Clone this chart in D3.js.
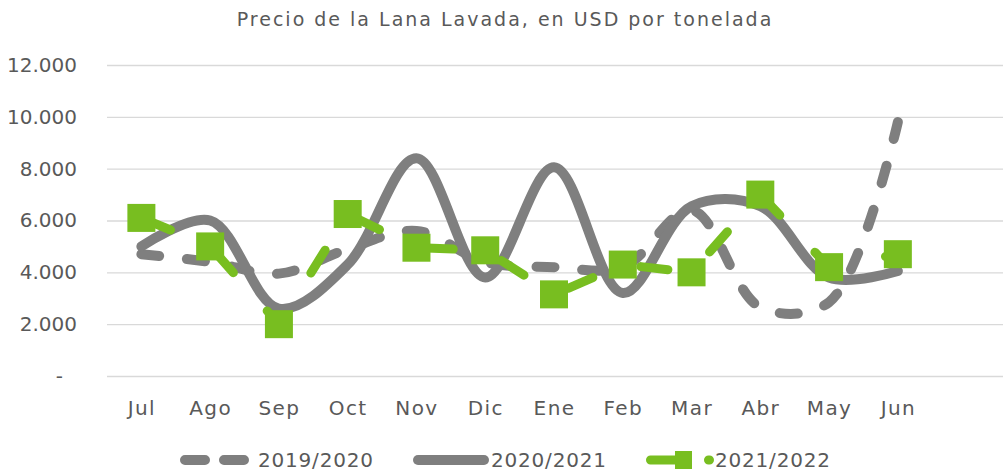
<!DOCTYPE html>
<html>
<head>
<meta charset="utf-8">
<script src="https://cdn.jsdelivr.net/npm/d3@7"></script>
<style>
  body { margin: 0; background: #fff; }
  text { font-family: "DejaVu Sans", sans-serif; fill: #595959; }
</style>
</head>
<body>
<div id="chart"></div>
<script>
// data
var months = ["Jul", "Ago", "Sep", "Oct", "Nov", "Dic", "Ene", "Feb", "Mar", "Abr", "May", "Jun"];
var yTicks = [0, 2000, 4000, 6000, 8000, 10000, 12000];
var season1920 = [4700, 4400, 3950, 4900, 5600, 4400, 4200, 4200, 6400, 2650, 2850, 9800];
var season2021 = [5000, 6000, 2600, 4300, 8400, 3800, 8050, 3200, 6550, 6550, 3800, 4050];
var season2122 = [6100, 5000, 2000, 6250, 4950, 4850, 3150, 4300, 4000, 7000, 4200, 4700];
var seasonNames = ["2019/2020", "2020/2021", "2021/2022"];

var width = 1005,
    height = 476,
    plotLeft = 107,
    plotRight = 1001,
    plotTop = 65,
    plotBottom = 376;

var gray = "#7f7f7f",
    green = "#78be20";

var svg = d3.select("#chart")
      .append("svg")
      .attr("width", width)
      .attr("height", height);

// 13 slots, the last one stays empty like in the original
var x = d3.scaleLinear()
      .domain([-0.5, 12.5])
      .range([plotLeft, plotRight]);
var y = d3.scaleLinear()
      .domain([0, 12000])
      .range([plotBottom, plotTop]);

// title
svg.append("text")
      .attr("x", 505)
      .attr("y", 26)
      .attr("text-anchor", "middle")
      .style("font-size", "19px")
      .style("letter-spacing", "2px")
      .text("Precio de la Lana Lavada, en USD por tonelada");

// y axis + gridlines
var yAxis = d3.axisLeft(y)
      .tickValues(yTicks)
      .tickSize(-(plotRight + 2 - plotLeft))
      .tickPadding(30)
      .tickFormat(function (d) {
            return d === 0 ? "-" : d3.format(",")(d).replace(/,/g, ".");
      });

var gy = svg.append("g")
      .attr("transform", "translate(" + plotLeft + ",0)")
      .call(yAxis);
gy.select(".domain").remove();
gy.selectAll(".tick line")
      .attr("stroke", "#d9d9d9")
      .attr("stroke-width", 1.4);
gy.selectAll(".tick text")
      .style("font-size", "20px")
      .style("font-family", "'DejaVu Sans', sans-serif")
      .attr("fill", "#595959")
      .attr("dx", function (d) { return d === 0 ? -14 : 0; });

// x axis (labels only)
var xAxis = d3.axisBottom(x)
      .tickValues(d3.range(months.length))
      .tickSize(0)
      .tickPadding(25)
      .tickFormat(function (i) { return months[i]; });

var gx = svg.append("g")
      .attr("transform", "translate(0," + plotBottom + ")")
      .call(xAxis);
gx.select(".domain").remove();
gx.selectAll(".tick text")
      .style("font-size", "20px")
      .style("letter-spacing", "1.4px")
      .style("font-family", "'DejaVu Sans', sans-serif")
      .attr("fill", "#595959");

var smoothLine = d3.line()
      .x(function (d, i) { return x(i); })
      .y(function (d) { return y(d); })
      .curve(d3.curveCatmullRom.alpha(0.5));

var straightLine = d3.line()
      .x(function (d, i) { return x(i); })
      .y(function (d) { return y(d); });

// 2019/2020 dashed gray
var dashed = svg.append("path")
      .attr("d", smoothLine(season1920))
      .attr("fill", "none")
      .attr("stroke", gray)
      .attr("stroke-width", 10)
      .attr("stroke-linecap", "round");

// stretch the dash period a bit so the line ends inside a dash
var dashLen = 18;
var totalLen = dashed.node().getTotalLength();
var nDash = Math.round((totalLen - dashLen) / 45);
var period = (totalLen - dashLen) / nDash;
dashed.attr("stroke-dasharray", dashLen + " " + (period - dashLen));

// 2020/2021 solid gray
svg.append("path")
      .attr("d", smoothLine(season2021))
      .attr("fill", "none")
      .attr("stroke", gray)
      .attr("stroke-width", 10)
      .attr("stroke-linecap", "round")
      .attr("stroke-linejoin", "round");

// 2021/2022 green dashed with squares
svg.append("path")
      .attr("d", straightLine(season2122))
      .attr("fill", "none")
      .attr("stroke", green)
      .attr("stroke-width", 9)
      .attr("stroke-linecap", "round")
      .attr("stroke-dasharray", "27 51")
      .attr("stroke-dashoffset", -4.5);

var markerSize = 28;
svg.selectAll(".square")
      .data(season2122)
      .enter().append("rect")
      .attr("class", "square")
      .attr("x", function (d, i) { return x(i) - markerSize / 2; })
      .attr("y", function (d) { return y(d) - markerSize / 2; })
      .attr("width", markerSize)
      .attr("height", markerSize)
      .attr("fill", green);

// legend
var legendY = 460;
var lg = svg.append("g");

lg.append("line")
      .attr("x1", 185).attr("x2", 245)
      .attr("y1", legendY).attr("y2", legendY)
      .attr("stroke", gray)
      .attr("stroke-width", 10)
      .attr("stroke-linecap", "round")
      .attr("stroke-dasharray", "20 19");

lg.append("line")
      .attr("x1", 418).attr("x2", 484)
      .attr("y1", legendY).attr("y2", legendY)
      .attr("stroke", gray)
      .attr("stroke-width", 10)
      .attr("stroke-linecap", "round");

lg.append("line")
      .attr("x1", 650.5).attr("x2", 709.5)
      .attr("y1", legendY).attr("y2", legendY)
      .attr("stroke", green)
      .attr("stroke-width", 9)
      .attr("stroke-linecap", "round")
      .attr("stroke-dasharray", "26 32");

lg.append("rect")
      .attr("x", 675).attr("y", legendY - 9)
      .attr("width", 17).attr("height", 18)
      .attr("fill", green);

var legendTextX = [258, 491, 715];
lg.selectAll(".legend-text")
      .data(seasonNames)
      .enter().append("text")
      .attr("class", "legend-text")
      .attr("x", function (d, i) { return legendTextX[i]; })
      .attr("y", 467)
      .style("font-size", "20px")
      .style("letter-spacing", "0.8px")
      .text(function (d) { return d; });
</script>
</body>
</html>
